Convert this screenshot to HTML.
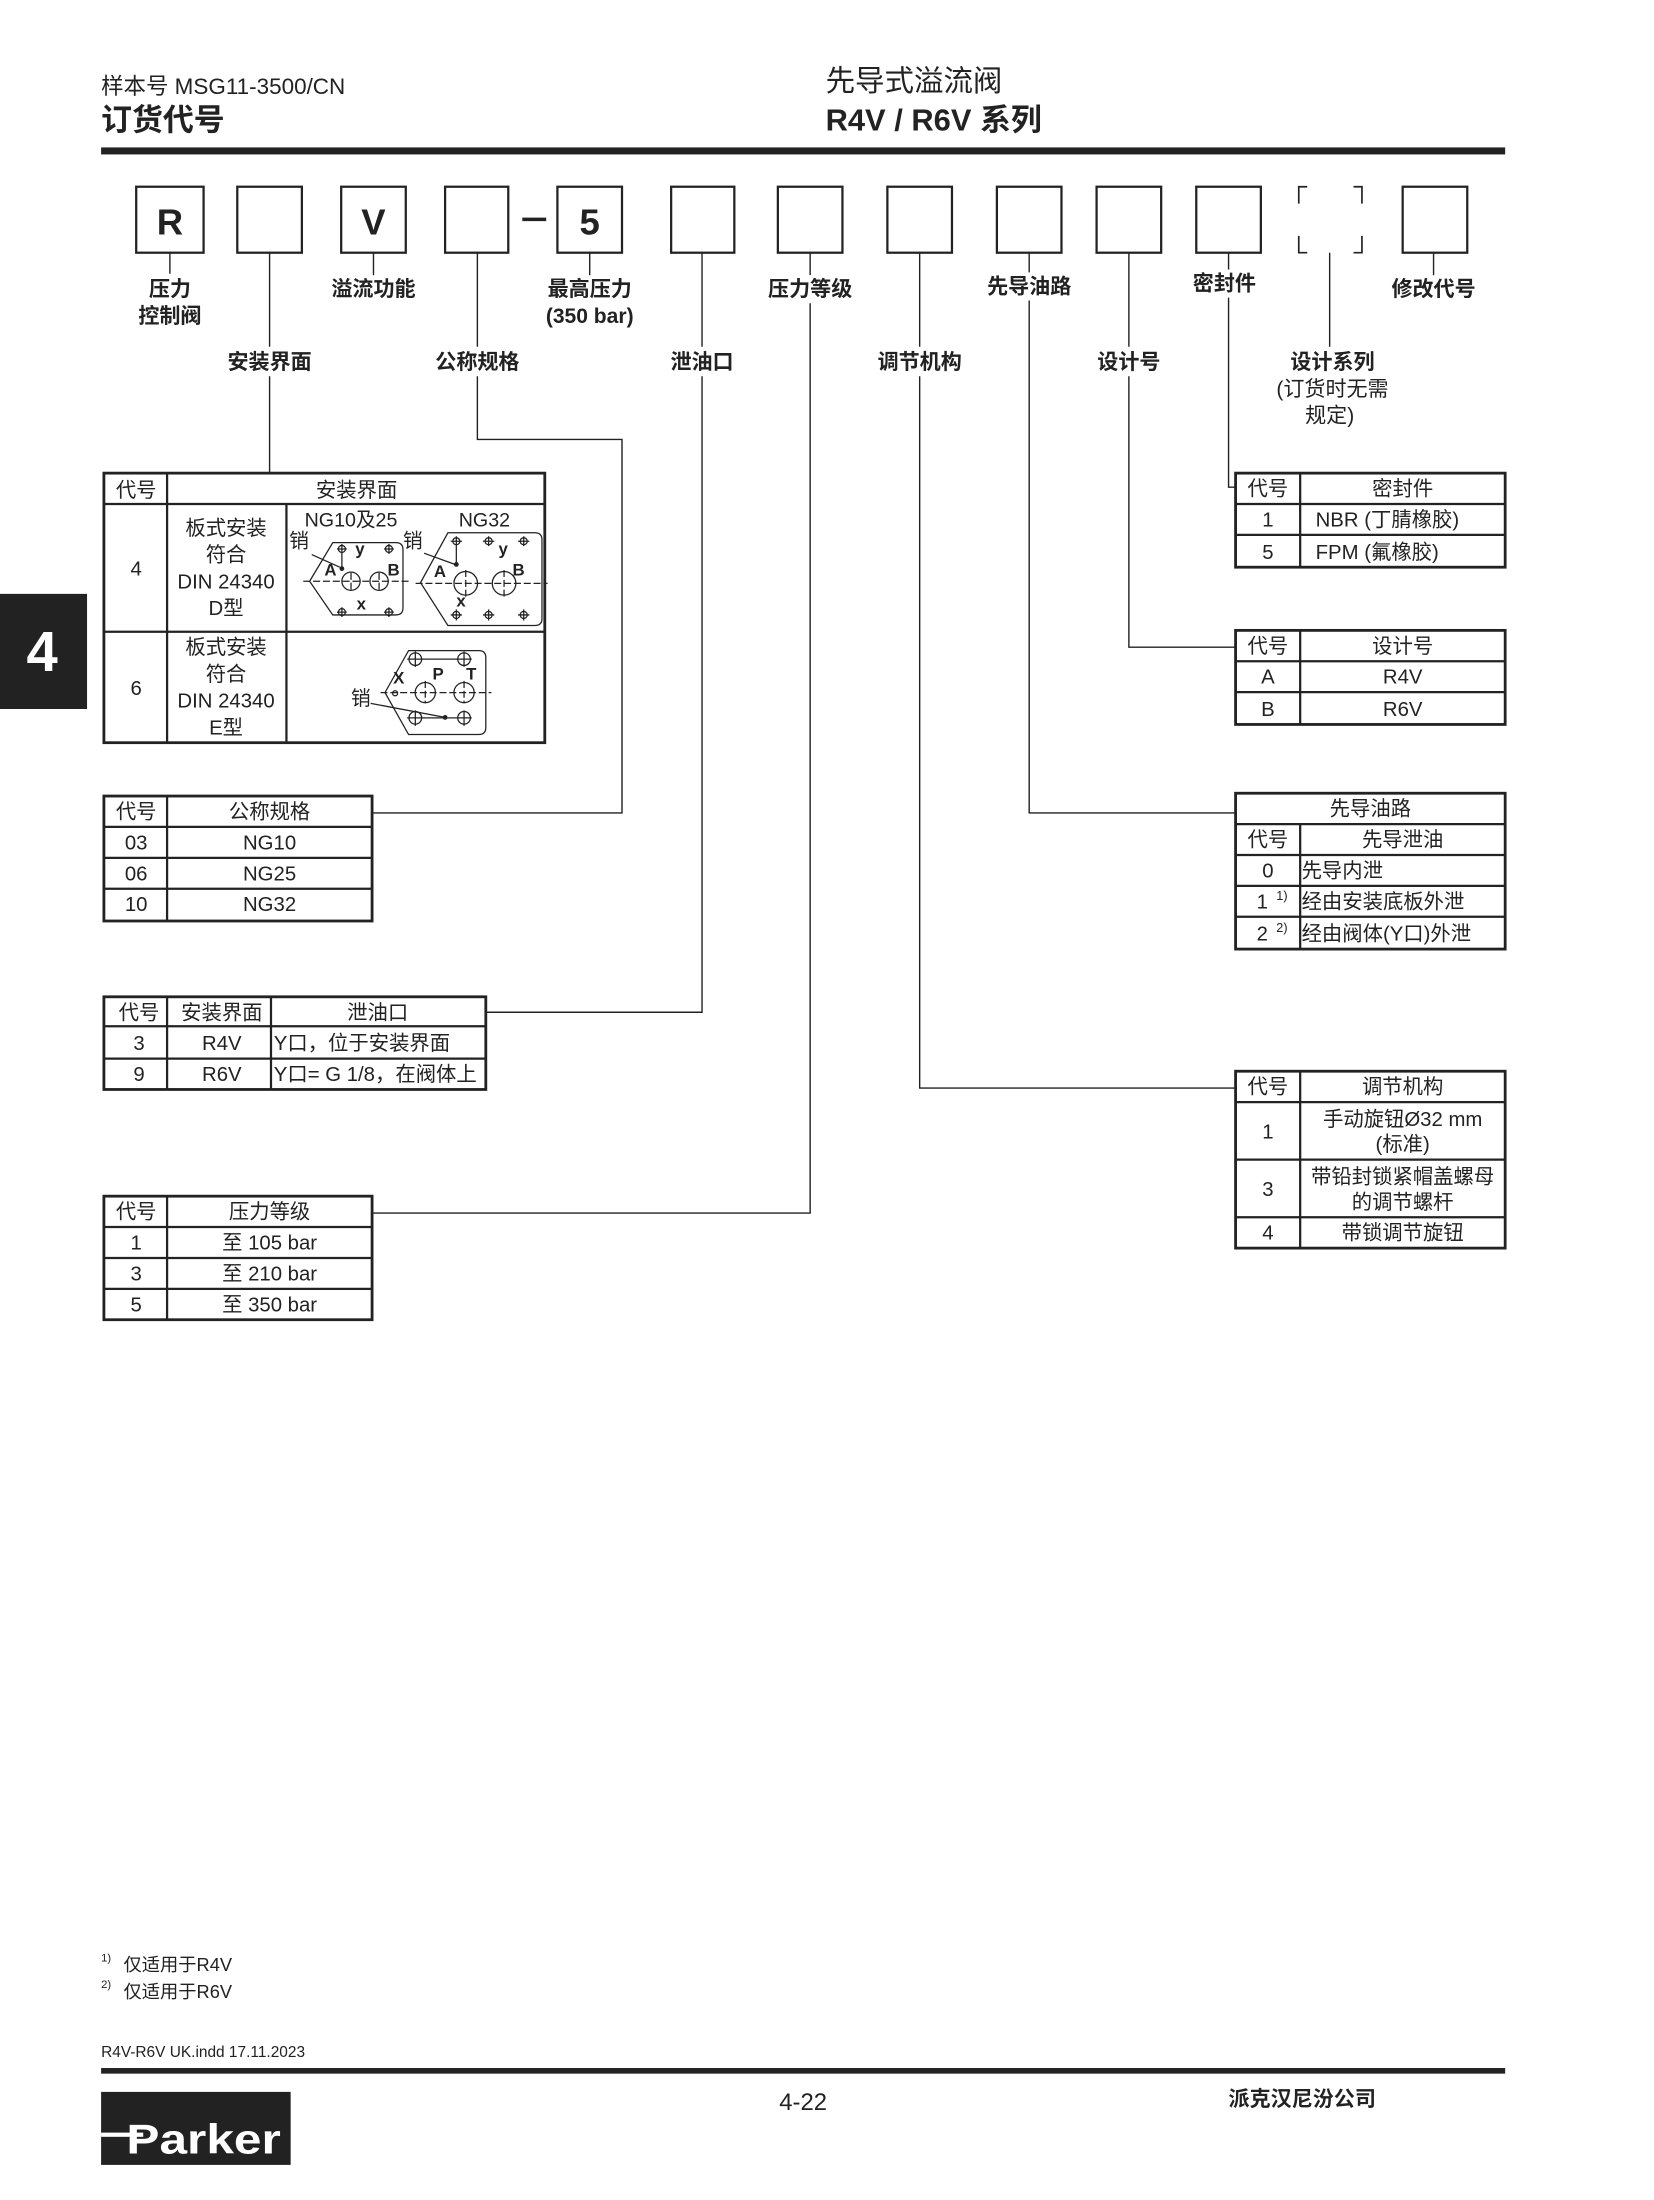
<!DOCTYPE html>
<html><head><meta charset="utf-8"><style>
html,body{margin:0;padding:0;background:#fff;}
svg{display:block;}
text{font-family:"Liberation Sans","Noto Sans CJK SC",sans-serif;fill:#222;}
.b{font-weight:bold;}
.c{text-anchor:middle;}
.t{font-size:14.5px;}
.lbl{font-size:15px;font-weight:bold;text-anchor:middle;}
</style></head><body>
<svg width="1654" height="2200" viewBox="0 0 1178 1567" preserveAspectRatio="none" xmlns="http://www.w3.org/2000/svg">
<rect width="1178" height="1567" fill="#fff"/>
<!-- header -->
<text x="72" y="67" font-size="16">样本号 MSG11-3500/CN</text>
<text x="72" y="93" font-size="22" class="b">订货代号</text>
<text x="588" y="65" font-size="21">先导式溢流阀</text>
<text x="588" y="93" font-size="22" class="b">R4V / R6V 系列</text>
<rect x="72" y="105" width="1000" height="5" fill="#222"/>
<!-- side tab -->
<rect x="0" y="423" width="62" height="82" fill="#222"/>
<text x="30" y="478" font-size="40" class="b c" fill="#fff" style="fill:#fff">4</text>

<g stroke="#222" stroke-width="1.6" fill="none">
<rect x="97" y="133" width="48" height="47"/>
<rect x="169" y="133" width="46" height="47"/>
<rect x="243" y="133" width="46" height="47"/>
<rect x="317" y="133" width="45" height="47"/>
<rect x="397" y="133" width="46" height="47"/>
<rect x="478" y="133" width="45" height="47"/>
<rect x="554" y="133" width="46" height="47"/>
<rect x="632" y="133" width="46" height="47"/>
<rect x="710" y="133" width="46" height="47"/>
<rect x="781" y="133" width="46" height="47"/>
<rect x="852" y="133" width="46" height="47"/>
<rect x="999" y="133" width="46" height="47"/>
<path d="M931 133H925V145M964 133H970V145M925 168V180H931M964 180H970V168" stroke-width="1.2"/>
</g>
<rect x="372" y="155" width="17" height="2.5" fill="#222"/>
<text x="121" y="167" font-size="26" class="b c">R</text>
<text x="266" y="167" font-size="26" class="b c">V</text>
<text x="420" y="167" font-size="26" class="b c">5</text>

<!-- connectors -->
<g stroke="#222" stroke-width="1" fill="none">
<path d="M121 180V195"/>
<path d="M192 180V247M192 268V337"/>
<path d="M266 180V196"/>
<path d="M340 180V247M340 268V313H443V579H266"/>
<path d="M420 180V196"/>
<path d="M500 180V247M500 268V721H346"/>
<path d="M577 180V196M577 216V864H266"/>
<path d="M655 180V247M655 268V775H880"/>
<path d="M733 180V194M733 214V579H880"/>
<path d="M804 180V247M804 268V461H880"/>
<path d="M875 180V192M875 212V347H880"/>
<path d="M947 180V247"/>
<path d="M1021 180V196"/>
</g>
<text x="121" y="211" class="lbl">压力</text>
<text x="121" y="230" class="lbl">控制阀</text>
<text x="192" y="263" class="lbl">安装界面</text>
<text x="266" y="211" class="lbl">溢流功能</text>
<text x="340" y="263" class="lbl">公称规格</text>
<text x="420" y="211" class="lbl">最高压力</text>
<text x="420" y="230" class="lbl">(350 bar)</text>
<text x="500" y="263" class="lbl">泄油口</text>
<text x="577" y="211" class="lbl">压力等级</text>
<text x="655" y="263" class="lbl">调节机构</text>
<text x="733" y="209" class="lbl">先导油路</text>
<text x="804" y="263" class="lbl">设计号</text>
<text x="872" y="207" class="lbl">密封件</text>
<text x="949" y="263" class="lbl">设计系列</text>
<text x="949" y="282" font-size="15" class="c">(订货时无需</text>
<text x="947" y="301" font-size="15" class="c">规定)</text>
<text x="1021" y="211" class="lbl">修改代号</text>

<!-- T1 mounting face -->
<g stroke="#222" fill="none">
<rect x="74" y="337" width="314" height="192" stroke-width="2"/>
<path d="M74 359H388M74 450H388M119 337V529M204 359V529" stroke-width="1.6"/>
</g>
<text x="97" y="354" class="t c">代号</text>
<text x="254" y="354" class="t c">安装界面</text>
<text x="97" y="410" class="t c">4</text>
<text x="161" y="381" class="t c">板式安装</text>
<text x="161" y="400" class="t c">符合</text>
<text x="161" y="419" class="t c">DIN 24340</text>
<text x="161" y="438" class="t c">D型</text>
<text x="97" y="495" class="t c">6</text>
<text x="161" y="466" class="t c">板式安装</text>
<text x="161" y="485" class="t c">符合</text>
<text x="161" y="504" class="t c">DIN 24340</text>
<text x="161" y="523" class="t c">E型</text>
<!-- drawings -->
<text x="250" y="375" font-size="14" class="c">NG10及25</text>
<text x="345" y="375" font-size="14" class="c">NG32</text>
<text x="213" y="390" font-size="14" class="c">销</text>
<text x="294" y="390" font-size="14" class="c">销</text>
<g stroke="#222" stroke-width="0.9" fill="none">
<path d="M237 386.5H282Q287 386.5 287 391.5V433Q287 438 282 438H237L220.5 414Z"/>
<circle cx="250" cy="414" r="6.5"/><circle cx="270" cy="414" r="6.5"/>
<path d="M216 414H292M250 408V421M270 408V421" stroke-dasharray="5 2"/>
<circle cx="243.5" cy="391" r="2.5"/><circle cx="277" cy="391" r="2.5"/>
<circle cx="243.5" cy="436" r="2.5"/><circle cx="277" cy="436" r="2.5"/>
<path d="M240 391H247M243.5 387.5V394.5M273.5 391H280.5M277 387.5V394.5M240 436H247M243.5 432.5V439.5M273.5 436H280.5M277 432.5V439.5M243.5 394V405M222 395L242 404"/>
<path d="M319 379.5H381Q386 379.5 386 384.5V440.5Q386 445.5 381 445.5H319L299.5 415Z"/>
<circle cx="331.7" cy="415.5" r="8.4"/><circle cx="359" cy="415.5" r="8.4"/>
<path d="M296 415.5H390M331.7 406V426M359 406V426" stroke-dasharray="5 2"/>
<circle cx="325" cy="385.5" r="2.5"/><circle cx="348" cy="385.5" r="2.5"/><circle cx="373" cy="385.5" r="2.5"/>
<circle cx="325" cy="438" r="2.5"/><circle cx="348" cy="438" r="2.5"/><circle cx="373" cy="438" r="2.5"/>
<path d="M321 385.5H329M344 385.5H352M369 385.5H377M321 438H329M344 438H352M369 438H377M325 382V389M348 382V389M373 382V389M325 434V442M348 434V442M373 434V442M325 389V402M302 394L324 402"/>
<path d="M291 463.4H341Q346 463.4 346 468.4V518.2Q346 523.2 341 523.2H291L274.2 493.3Z"/>
<circle cx="302.9" cy="493.3" r="7.2"/><circle cx="330.5" cy="493.3" r="7.2"/>
<path d="M271 493.3H350M302.9 485V501M330.5 485V501" stroke-dasharray="5 2"/>
<circle cx="295.8" cy="469.5" r="4.5"/><circle cx="330.5" cy="469.5" r="4.5"/>
<circle cx="295.8" cy="511.3" r="4.5"/><circle cx="330.5" cy="511.3" r="4.5"/>
<path d="M290 469.5H336M295.8 464V475M330.5 464V475M290 511.3H336M295.8 506V517M330.5 506V517" />
<circle cx="281.4" cy="493.8" r="1.8"/>
<path d="M264 501L317 511"/>
</g>
<g fill="#222"><circle cx="243.5" cy="405" r="1.7"/><circle cx="325" cy="402" r="1.7"/><circle cx="317" cy="511" r="1.7"/></g>
<g font-size="12" class="b">
<text x="231" y="410">A</text><text x="276" y="410">B</text>
<text x="253" y="395">y</text><text x="254" y="434">x</text>
<text x="309" y="411">A</text><text x="365" y="410">B</text>
<text x="355" y="395">y</text><text x="325" y="432">x</text>
<text x="280" y="487">X</text><text x="308" y="484">P</text><text x="332" y="484">T</text>
</g>
<text x="257" y="502" font-size="14" class="c">销</text>

<!-- T2 -->
<g stroke="#222" fill="none">
<rect x="74" y="567" width="191" height="89" stroke-width="2"/>
<path d="M74 589H265M74 611H265M74 633H265M119 567V656" stroke-width="1.6"/>
</g>
<text x="97" y="583" class="t c">代号</text><text x="192" y="583" class="t c">公称规格</text>
<text x="97" y="605" class="t c">03</text><text x="192" y="605" class="t c">NG10</text>
<text x="97" y="627" class="t c">06</text><text x="192" y="627" class="t c">NG25</text>
<text x="97" y="649" class="t c">10</text><text x="192" y="649" class="t c">NG32</text>

<!-- T3 -->
<g stroke="#222" fill="none">
<rect x="74" y="710" width="272" height="66" stroke-width="2"/>
<path d="M74 731H346M74 754H346M119 710V776M193 710V776" stroke-width="1.6"/>
</g>
<text x="99" y="726" class="t c">代号</text><text x="158" y="726" class="t c">安装界面</text><text x="269" y="726" class="t c">泄油口</text>
<text x="99" y="748" class="t c">3</text><text x="158" y="748" class="t c">R4V</text><text x="195" y="748" class="t">Y口，位于安装界面</text>
<text x="99" y="770" class="t c">9</text><text x="158" y="770" class="t c">R6V</text><text x="195" y="770" class="t">Y口= G 1/8，在阀体上</text>

<!-- T4 -->
<g stroke="#222" fill="none">
<rect x="74" y="852" width="191" height="88" stroke-width="2"/>
<path d="M74 874H265M74 896H265M74 918H265M119 852V940" stroke-width="1.6"/>
</g>
<text x="97" y="868" class="t c">代号</text><text x="192" y="868" class="t c">压力等级</text>
<text x="97" y="890" class="t c">1</text><text x="192" y="890" class="t c">至 105 bar</text>
<text x="97" y="912" class="t c">3</text><text x="192" y="912" class="t c">至 210 bar</text>
<text x="97" y="934" class="t c">5</text><text x="192" y="934" class="t c">至 350 bar</text>

<!-- T5 -->
<g stroke="#222" fill="none">
<rect x="880" y="337" width="192" height="67" stroke-width="2"/>
<path d="M880 359H1072M880 381H1072M926 337V404" stroke-width="1.6"/>
</g>
<text x="903" y="353" class="t c">代号</text><text x="999" y="353" class="t c">密封件</text>
<text x="903" y="375" class="t c">1</text><text x="937" y="375" class="t">NBR (丁腈橡胶)</text>
<text x="903" y="398" class="t c">5</text><text x="937" y="398" class="t">FPM (氟橡胶)</text>

<!-- T6 -->
<g stroke="#222" fill="none">
<rect x="880" y="449" width="192" height="67" stroke-width="2"/>
<path d="M880 471H1072M880 493H1072M926 449V516" stroke-width="1.6"/>
</g>
<text x="903" y="465" class="t c">代号</text><text x="999" y="465" class="t c">设计号</text>
<text x="903" y="487" class="t c">A</text><text x="999" y="487" class="t c">R4V</text>
<text x="903" y="510" class="t c">B</text><text x="999" y="510" class="t c">R6V</text>

<!-- T7 -->
<g stroke="#222" fill="none">
<rect x="880" y="565" width="192" height="111" stroke-width="2"/>
<path d="M880 587H1072M880 609H1072M880 631H1072M880 653H1072M926 587V676" stroke-width="1.6"/>
</g>
<text x="976" y="581" class="t c">先导油路</text>
<text x="903" y="603" class="t c">代号</text><text x="999" y="603" class="t c">先导泄油</text>
<text x="903" y="625" class="t c">0</text><text x="927" y="625" class="t">先导内泄</text>
<text x="899" y="647" class="t c">1</text><text x="909" y="641" font-size="9">1)</text><text x="927" y="647" class="t">经由安装底板外泄</text>
<text x="899" y="670" class="t c">2</text><text x="909" y="664" font-size="9">2)</text><text x="927" y="670" class="t">经由阀体(Y口)外泄</text>

<!-- T8 -->
<g stroke="#222" fill="none">
<rect x="880" y="763" width="192" height="126" stroke-width="2"/>
<path d="M880 785H1072M880 826H1072M880 867H1072M926 763V889" stroke-width="1.6"/>
</g>
<text x="903" y="779" class="t c">代号</text><text x="999" y="779" class="t c">调节机构</text>
<text x="903" y="811" class="t c">1</text><text x="999" y="802" class="t c">手动旋钮Ø32 mm</text><text x="999" y="820" class="t c">(标准)</text>
<text x="903" y="852" class="t c">3</text><text x="999" y="843" class="t c">带铅封锁紧帽盖螺母</text><text x="999" y="861" class="t c">的调节螺杆</text>
<text x="903" y="883" class="t c">4</text><text x="999" y="883" class="t c">带锁调节旋钮</text>

<!-- footer -->
<text x="72" y="1397" font-size="8">1)</text><text x="88" y="1404" font-size="13">仅适用于R4V</text>
<text x="72" y="1416" font-size="8">2)</text><text x="88" y="1423" font-size="13">仅适用于R6V</text>
<text x="72" y="1465" font-size="11">R4V-R6V UK.indd 17.11.2023</text>
<rect x="72" y="1473" width="1000" height="4" fill="#222"/>
<rect x="72" y="1490" width="135" height="52" fill="#222"/>
<rect x="72" y="1519" width="30" height="3" fill="#fff"/>
<text x="145" y="1534" font-size="30" class="b c" style="fill:#fff" fill="#fff" textLength="110" lengthAdjust="spacingAndGlyphs">Parker</text>
<text x="572" y="1503" font-size="17" class="c">4-22</text>
<text x="875" y="1500" font-size="15" class="b">派克汉尼汾公司</text>
</svg>
</body></html>
